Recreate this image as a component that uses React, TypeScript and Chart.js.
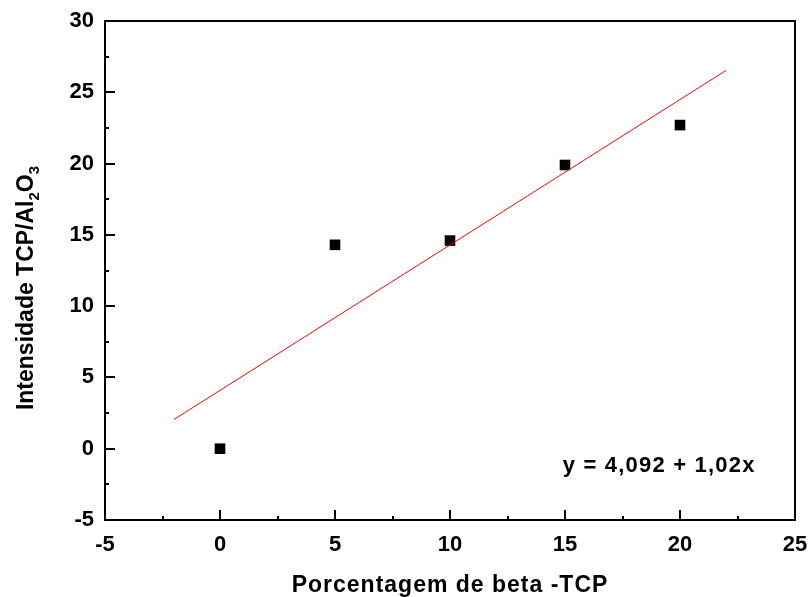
import React, { useEffect, useRef } from "react";
import { Chart, registerables } from "chart.js";

Chart.register(...registerables);

// ---- data ----
const pctBeta = [0, 5, 10, 15, 20];
const intensity = [0, 14.3, 14.6, 19.9, 22.7];
const fitX = [-2, 22];
const fitY = [2.05, 26.53];
const xMajorTicks = [-5, 0, 5, 10, 15, 20, 25];
const xMinorTicks = [-2.5, 2.5, 7.5, 12.5, 17.5, 22.5];
const yMajorTicks = [-5, 0, 5, 10, 15, 20, 25, 30];
const yMinorTicks = [-2.5, 2.5, 7.5, 12.5, 17.5, 22.5, 27.5];
const xTitle = "Porcentagem de beta -TCP";
const yTitleMain = "Intensidade TCP/Al";
const yTitleSub1 = "2";
const yTitleO = "O";
const yTitleSub2 = "3";
const equationText = "y = 4,092 + 1,02x";
const equationAt = [14.9, -1.1];

const FONT = '"Liberation Sans", Arial, Helvetica, sans-serif';

const decorPlugin = {
  id: "decor",
  afterDraw(chart: any) {
    const { ctx, chartArea: a, scales } = chart;
    const xs = scales.x;
    const ys = scales.y;
    ctx.save();
    ctx.strokeStyle = "#000";
    ctx.lineWidth = 2;
    ctx.strokeRect(a.left, a.top, a.right - a.left, a.bottom - a.top);
    ctx.beginPath();
    const tick = (vals: number[], len: number) => {
      vals.forEach((v) => {
        const px = Math.round(xs.getPixelForValue(v));
        ctx.moveTo(px, a.bottom);
        ctx.lineTo(px, a.bottom - len);
      });
    };
    const tickY = (vals: number[], len: number) => {
      vals.forEach((v) => {
        const py = Math.round(ys.getPixelForValue(v));
        ctx.moveTo(a.left, py);
        ctx.lineTo(a.left + len, py);
      });
    };
    tick(xMajorTicks, 10);
    tick(xMinorTicks, 4);
    tickY(yMajorTicks, 10);
    tickY(yMinorTicks, 4);
    ctx.stroke();

    // equation
    ctx.fillStyle = "#000";
    ctx.font = `bold 22px ${FONT}`;
    (ctx as any).letterSpacing = "1.2px";
    ctx.textAlign = "left";
    ctx.textBaseline = "alphabetic";
    ctx.fillText(
      equationText,
      xs.getPixelForValue(equationAt[0]),
      ys.getPixelForValue(equationAt[1]) + 8
    );

    // x title
    ctx.font = `bold 23px ${FONT}`;
    (ctx as any).letterSpacing = "1px";
    ctx.textAlign = "center";
    ctx.fillText(xTitle, (a.left + a.right) / 2, 592);

    // y title with subscripts
    (ctx as any).letterSpacing = "0px";
    const big = `bold 23px ${FONT}`;
    const small = `bold 15px ${FONT}`;
    ctx.font = big;
    const w1 = ctx.measureText(yTitleMain).width;
    const w3 = ctx.measureText(yTitleO).width;
    ctx.font = small;
    const w2 = ctx.measureText(yTitleSub1).width;
    const w4 = ctx.measureText(yTitleSub2).width;
    const total = w1 + w2 + w3 + w4;
    ctx.translate(33, 288);
    ctx.rotate(-Math.PI / 2);
    ctx.textAlign = "left";
    let x = -total / 2;
    ctx.font = big;
    ctx.fillText(yTitleMain, x, 0);
    x += w1;
    ctx.font = small;
    ctx.fillText(yTitleSub1, x, 6);
    x += w2;
    ctx.font = big;
    ctx.fillText(yTitleO, x, 0);
    x += w3;
    ctx.font = small;
    ctx.fillText(yTitleSub2, x, 6);
    ctx.restore();
  },
};

export default function App() {
  const ref = useRef<HTMLCanvasElement>(null);
  useEffect(() => {
    if (!ref.current) return;
    const tickFont = { family: FONT, size: 22, weight: "bold" as const };
    const chart = new Chart(ref.current, {
      type: "scatter",
      data: {
        datasets: [
          {
            label: "fit",
            data: fitX.map((x, i) => ({ x, y: fitY[i] })),
            showLine: true,
            borderColor: "#ff0000",
            borderWidth: 1,
            pointRadius: 0,
            fill: false,
          },
          {
            label: "data",
            data: pctBeta.map((x, i) => ({ x, y: intensity[i] })),
            pointStyle: "rect",
            pointRadius: 7.5,
            backgroundColor: "#000",
            borderColor: "#000",
            borderWidth: 0,
            showLine: false,
          },
        ],
      },
      options: {
        animation: false,
        responsive: false,
        devicePixelRatio: 1,
        layout: { padding: { top: 21, right: 15, left: 0, bottom: 0 } },
        plugins: { legend: { display: false }, tooltip: { enabled: false } },
        scales: {
          x: {
            type: "linear",
            min: -5,
            max: 25,
            afterBuildTicks: (s: any) => {
              s.ticks = xMajorTicks.map((v) => ({ value: v }));
            },
            afterFit: (s: any) => {
              s.height = 77;
              s.paddingLeft = 0;
              s.paddingRight = 0;
            },
            grid: { display: false, drawTicks: false },
            border: { display: false },
            ticks: { font: tickFont, color: "#000", padding: 12, maxRotation: 0, autoSkip: false },
          },
          y: {
            type: "linear",
            min: -5,
            max: 30,
            afterBuildTicks: (s: any) => {
              s.ticks = yMajorTicks.map((v) => ({ value: v }));
            },
            afterFit: (s: any) => {
              s.width = 105;
              s.paddingTop = 0;
              s.paddingBottom = 0;
            },
            grid: { display: false, drawTicks: false },
            border: { display: false },
            ticks: { font: tickFont, color: "#000", padding: 11, autoSkip: false },
          },
        },
      },
      plugins: [decorPlugin],
    });
    return () => chart.destroy();
  }, []);
  return (
    <div style={{ position: "absolute", left: 0, top: 0, width: 810, height: 597, background: "#fff" }}>
      <canvas ref={ref} width={810} height={597} />
    </div>
  );
}
